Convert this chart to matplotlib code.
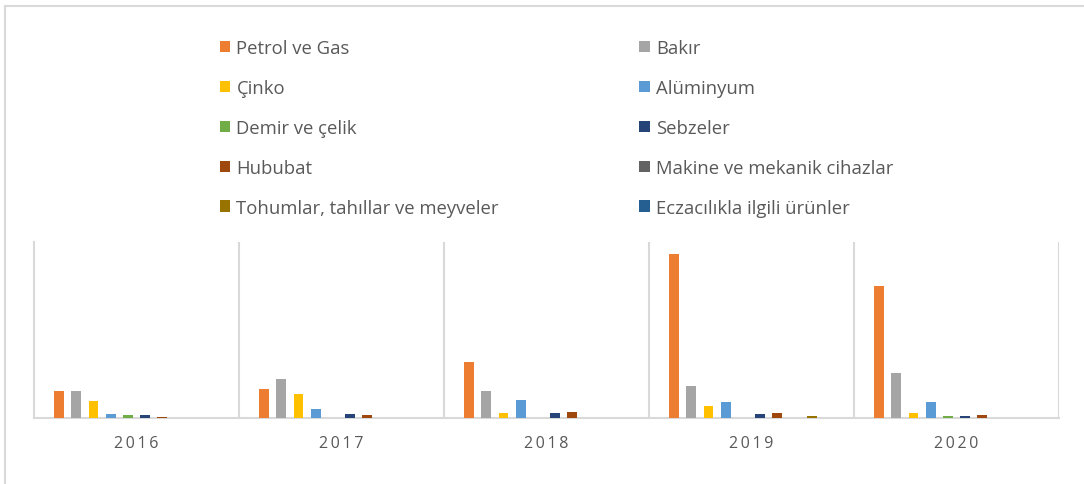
import matplotlib
matplotlib.use("Agg")
import matplotlib.pyplot as plt
from matplotlib.patches import Patch
from matplotlib.lines import Line2D
import numpy as np

plt.rcParams['font.family'] = ['Open Sans', 'DejaVu Sans']

years = ["2016", "2017", "2018", "2019", "2020"]
series_names = ["Petrol ve Gas", "Bakır", "Çinko", "Alüminyum", "Demir ve çelik",
                "Sebzeler", "Hububat", "Makine ve mekanik cihazlar",
                "Tohumlar, tahıllar ve meyveler", "Eczacılıkla ilgili ürünler"]
petrol = [26.7, 28.7, 56.0, 163.3, 131.3]
bakir = [26.3, 39.0, 26.3, 31.7, 44.3]
cinko = [16.3, 23.7, 5.0, 12.0, 4.3]
aluminyum = [3.3, 8.7, 18.0, 16.0, 16.0]
demir = [2.3, 0.0, 0.0, 0.0, 1.3]
sebzeler = [2.3, 3.7, 4.3, 3.3, 1.3]
hububat = [1.2, 2.7, 5.3, 4.3, 2.3]
makine = [0.0, 0.0, 0.0, 0.0, 0.0]
tohumlar = [0.0, 0.0, 0.0, 1.3, 0.0]
eczacilik = [0.0, 0.0, 0.0, 0.0, 0.0]
series_values = [petrol, bakir, cinko, aluminyum, demir, sebzeler, hububat,
                 makine, tohumlar, eczacilik]
colors = ["#ED7D31", "#A5A5A5", "#FFC000", "#5B9BD5", "#70AD47",
          "#264478", "#9E480E", "#636363", "#997300", "#255E91"]

W, H = 1084, 485
fig = plt.figure(figsize=(W / 100, H / 100), dpi=100)
ax = fig.add_axes([34 / W, 1 - 418.7 / H, (1059 - 34) / W, (418.7 - 243) / H])

x = np.arange(len(years))
step = 0.0839
width = 0.0473
n = len(series_values)
for i, (vals, c) in enumerate(zip(series_values, colors)):
    ax.bar(x + (i - (n - 1) / 2) * step, vals, width=width, color=c, zorder=3)

ax.set_xlim(-0.5, len(years) - 0.5)
ax.set_ylim(0, 175.7)
grid_c = "#D9D9D9"
for s in ["top", "right"]:
    ax.spines[s].set_visible(False)
for s in ["left", "bottom"]:
    ax.spines[s].set_color(grid_c)
    ax.spines[s].set_linewidth(1.5)
for k in range(1, len(years) + 1):
    ax.axvline(k - 0.5, color=grid_c, lw=1.5, zorder=1)
ax.set_yticks([])
ax.set_xticks(x)
ax.set_xticklabels(["\u2009".join(y) for y in years], fontsize=11.5, color="#595959")
ax.tick_params(axis="x", length=0, pad=12.5)

# outer chart border (left and top edges visible)
fig.add_artist(Line2D([5 / W, 5 / W], [0, 1 - 7 / H], color=grid_c, lw=1.5,
                      transform=fig.transFigure))
fig.add_artist(Line2D([5 / W, 1], [1 - 7 / H, 1 - 7 / H], color=grid_c, lw=1.5,
                      transform=fig.transFigure))

# legend: row-wise order in 2 columns
handles = [Patch(facecolor=c, edgecolor="none") for c in colors]
order = list(range(0, n, 2)) + list(range(1, n, 2))
leg = fig.legend([handles[i] for i in order], [series_names[i] for i in order],
                 ncol=2, loc="upper left", bbox_to_anchor=(220 / W, 1 - 40 / H),
                 frameon=False, fontsize=13.3, labelcolor="#595959",
                 handlelength=0.56, handleheight=0.56, handletextpad=0.33,
                 labelspacing=1.185, columnspacing=7.6, borderpad=0, borderaxespad=0)

fig.savefig("out.png", dpi=100)
